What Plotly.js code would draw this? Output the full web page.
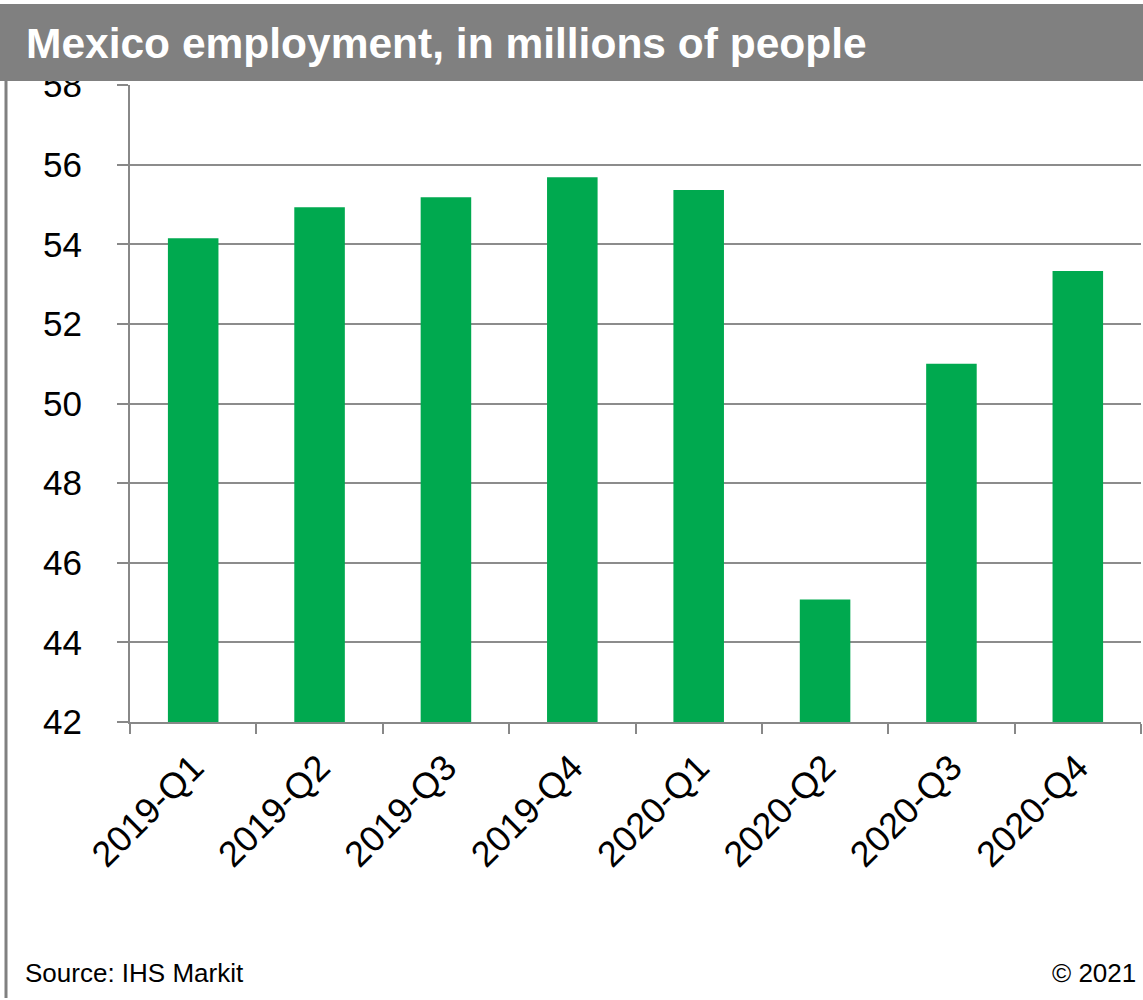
<!DOCTYPE html>
<html>
<head>
<meta charset="utf-8">
<script src="https://cdn.plot.ly/plotly-3.0.1.min.js"></script>
<style>
  html, body { margin: 0; padding: 0; background: #ffffff; }
  #chart { width: 1143px; height: 1000px; }
</style>
</head>
<body>
<div id="chart"></div>
<script>
const quarters = ["2019-Q1", "2019-Q2", "2019-Q3", "2019-Q4", "2020-Q1", "2020-Q2", "2020-Q3", "2020-Q4"];
const employment = [54.15, 54.93, 55.18, 55.68, 55.36, 45.08, 51.0, 53.33];
const yTicks = [42, 44, 46, 48, 50, 52, 54, 56, 58];
const titleText = "Mexico employment, in millions of people";
const sourceText = "Source: IHS Markit";
const copyrightText = "© 2021";

const W = 1143, H = 1000;
const mL = 130, mR = 2, mT = 85, mB = 278;
const pw = W - mL - mR, ph = H - mT - mB;
const px = x => (x - mL) / pw;
const py = y => (H - mB - y) / ph;

const trace = {
  type: "bar",
  x: quarters,
  y: employment,
  marker: { color: "#00a94f", line: { width: 0 } },
  hoverinfo: "x+y"
};

const layout = {
  width: W,
  height: H,
  margin: { l: mL, r: mR, t: mT, b: mB, pad: 0 },
  paper_bgcolor: "#ffffff",
  plot_bgcolor: "#ffffff",
  font: { family: "Liberation Sans, Arial, sans-serif", color: "#000000" },
  bargap: 0.6,
  showlegend: false,
  xaxis: {
    type: "category",
    tickangle: -45,
    tickfont: { size: 36, color: "#000000" },
    ticks: "outside",
    tickson: "boundaries",
    ticklen: 10,
    tickwidth: 2,
    tickcolor: "#888888",
    ticklabelstandoff: 8,
    showline: true,
    linecolor: "#888888",
    linewidth: 2,
    showgrid: false,
    zeroline: false,
    fixedrange: true
  },
  yaxis: {
    range: [42, 58],
    tickvals: yTicks,
    ticktext: yTicks.map(String),
    tickfont: { size: 35, color: "#000000" },
    ticks: "outside",
    ticklen: 11,
    tickwidth: 2,
    tickcolor: "#888888",
    ticklabelstandoff: 28,
    showline: true,
    linecolor: "#888888",
    linewidth: 2,
    showgrid: true,
    gridcolor: "#8c8c8c",
    gridwidth: 2,
    zeroline: false,
    fixedrange: true
  },
  shapes: [
    {
      type: "rect", xref: "paper", yref: "paper", layer: "above",
      x0: px(0), x1: px(W + 5), y0: py(81), y1: py(4),
      fillcolor: "#808080", line: { width: 0 }
    },
    {
      type: "line", xref: "paper", yref: "paper", layer: "above",
      x0: px(6), x1: px(6), y0: py(4), y1: py(998),
      line: { color: "#808080", width: 3 }
    }
  ],
  annotations: [
    {
      xref: "paper", yref: "paper", x: px(24), y: py(44),
      xanchor: "left", yanchor: "middle", showarrow: false,
      text: "<b>" + titleText + "</b>",
      font: { size: 42.5, color: "#ffffff", family: "Liberation Sans, Arial, sans-serif" }
    },
    {
      xref: "paper", yref: "paper", x: px(23), y: py(973),
      xanchor: "left", yanchor: "middle", showarrow: false,
      text: sourceText,
      font: { size: 26, color: "#000000" }
    },
    {
      xref: "paper", yref: "paper", x: px(1138), y: py(973),
      xanchor: "right", yanchor: "middle", showarrow: false,
      text: copyrightText,
      font: { size: 26, color: "#000000" }
    }
  ]
};

Plotly.newPlot("chart", [trace], layout, { displayModeBar: false, staticPlot: true });
</script>
</body>
</html>
